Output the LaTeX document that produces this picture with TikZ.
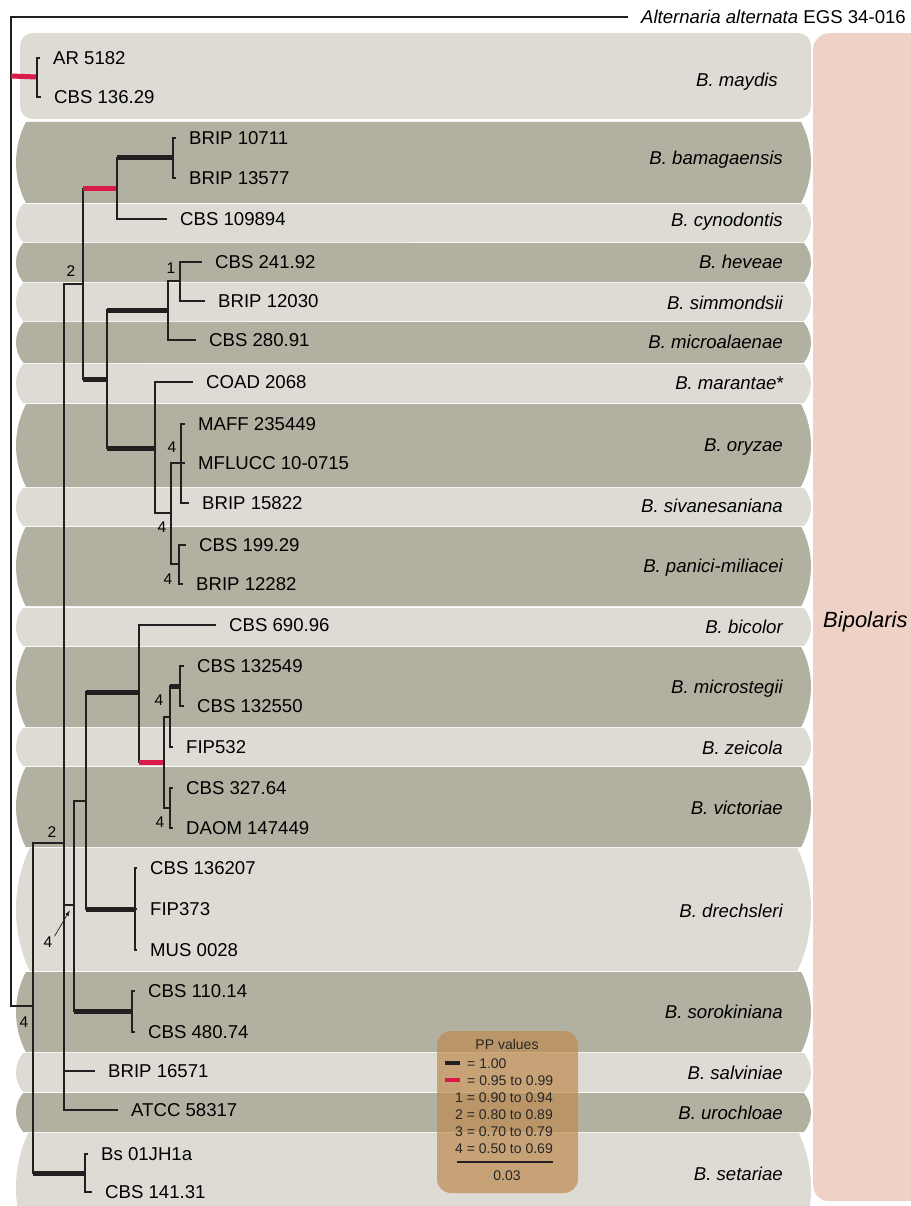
\documentclass[tikz,border=0pt]{standalone}
\usepackage{fontspec}
\setmainfont{Liberation Sans}
\usetikzlibrary{arrows.meta, shapes.misc}

\definecolor{bandlight}{RGB}{221,219,212}
\definecolor{banddark}{RGB}{178,177,161}
\definecolor{genuspink}{RGB}{239,209,197}
\definecolor{legendtan}{RGB}{190,138,80}
\definecolor{ppred}{RGB}{216,27,72}
\definecolor{treeblack}{RGB}{35,31,32}

\begin{document}
\begin{tikzpicture}[x=1pt, y=-1pt,
    every node/.style={inner sep=0pt, text depth=0pt},
    leaf/.style={anchor=west, font=\fontsize{18.6}{20}\selectfont, text height=13.3pt},
    species/.style={anchor=east, font=\fontsize{18.6}{20}\selectfont\itshape, text height=13.3pt},
    ppnum/.style={font=\fontsize{15.5}{17}\selectfont, text height=11.1pt},
    legtext/.style={font=\fontsize{14}{16}\selectfont, text height=10pt, text=black!85},
    band/.style={rounded rectangle, rounded rectangle arc length=#1, minimum width=795pt},
    legendbox/.style={fill=legendtan, fill opacity=0.7, rounded corners=14pt, minimum width=141pt, minimum height=162pt},
    br/.style={line width=1.3pt, treeblack},
    leafbr/.style={br, shorten >=13pt},
    pp100/.style={line width=5pt, treeblack},
    pp95/.style={line width=5pt, ppred},
    pparrow/.style={-{Latex[length=6pt,width=4pt]}, line width=0.7pt, treeblack}
]
\useasboundingbox (0,0) rectangle (910,1206);

% background bands
\node[fill=genuspink, rounded corners=16pt, minimum width=120pt, minimum height=1168pt, anchor=north west] (genus) at (813,33) {};
\node[fill=bandlight, rounded corners=13pt, minimum width=791pt, minimum height=86pt] (bmaydis) at (415.5,76) {};
\node[band=55, fill=banddark, minimum height=81pt] (bbamag) at (413.5,162.5) {};
\node[band=80, fill=bandlight, minimum height=38pt] (bcynod) at (413.5,223) {};
\node[band=80, fill=banddark, minimum height=39pt] (bheveae) at (413.5,262.5) {};
\node[band=80, fill=bandlight, minimum height=38pt] (bsimm) at (413.5,302) {};
\node[band=80, fill=banddark, minimum height=41pt] (bmicroal) at (413.5,342.5) {};
\node[band=80, fill=bandlight, minimum height=39pt] (bmarant) at (413.5,383.5) {};
\node[band=55, fill=banddark, minimum height=83pt] (boryzae) at (413.5,445.5) {};
\node[band=80, fill=bandlight, minimum height=38pt] (bsivan) at (413.5,507) {};
\node[band=55, fill=banddark, minimum height=79pt] (bpanici) at (413.5,566.5) {};
\node[band=80, fill=bandlight, minimum height=38pt] (bbicolor) at (413.5,627) {};
\node[band=55, fill=banddark, minimum height=80pt] (bmicrost) at (413.5,687) {};
\node[band=80, fill=bandlight, minimum height=38pt] (bzeicola) at (413.5,747) {};
\node[band=55, fill=banddark, minimum height=80pt] (bvictor) at (413.5,807) {};
\node[band=50, fill=bandlight, minimum height=123pt] (bdrech) at (413.5,909.5) {};
\node[band=55, fill=banddark, minimum height=80pt] (bsorok) at (413.5,1012) {};
\node[band=80, fill=bandlight, minimum height=39pt] (bsalvin) at (413.5,1072.5) {};
\node[band=80, fill=banddark, minimum height=39pt] (buroch) at (413.5,1112.5) {};
\node[band=50, fill=bandlight, minimum height=110pt] (bsetar) at (413.5,1188) {};

% internal nodes
\coordinate (root) at (11,76);
\coordinate (nmay) at (37,77);
\coordinate (nin) at (33,1006);
\coordinate (n64) at (64,843);
\coordinate (n83) at (83,284);
\coordinate (n117) at (117,189);
\coordinate (n173) at (173,158);
\coordinate (n107) at (107,379);
\coordinate (n168) at (168,310);
\coordinate (n180) at (180,281);
\coordinate (n155) at (155,448);
\coordinate (n171) at (171,513);
\coordinate (n181) at (181,463);
\coordinate (n179) at (179,564);
\coordinate (n74) at (74,905);
\coordinate (n86) at (86,801);
\coordinate (n139) at (139,692);
\coordinate (n164) at (164,762);
\coordinate (n170) at (170,717);
\coordinate (n180b) at (180,686);
\coordinate (n170b) at (170,808);
\coordinate (ndre) at (135,909);
\coordinate (nsor) at (132,1011);
\coordinate (nset) at (85,1173);

% taxa
\node[leaf, anchor=east] (alternaria) at (906,17) {\textit{Alternaria alternata} EGS 34-016};
\node[leaf] (ar5182) at (53,58) {AR 5182};
\node[leaf] (cbs13629) at (54,97) {CBS 136.29};
\node[leaf] (brip10711) at (189,138) {BRIP 10711};
\node[leaf] (brip13577) at (189,178) {BRIP 13577};
\node[leaf] (cbs109894) at (180,219) {CBS 109894};
\node[leaf] (cbs24192) at (215,262) {CBS 241.92};
\node[leaf] (brip12030) at (218,301) {BRIP 12030};
\node[leaf] (cbs28091) at (209,340) {CBS 280.91};
\node[leaf] (coad2068) at (206,382) {COAD 2068};
\node[leaf] (maff235449) at (198,424) {MAFF 235449};
\node[leaf] (mflucc) at (198,463) {MFLUCC 10-0715};
\node[leaf] (brip15822) at (202,503) {BRIP 15822};
\node[leaf] (cbs19929) at (199,545) {CBS 199.29};
\node[leaf] (brip12282) at (196,584) {BRIP 12282};
\node[leaf] (cbs69096) at (229,625) {CBS 690.96};
\node[leaf] (cbs132549) at (197,666) {CBS 132549};
\node[leaf] (cbs132550) at (197,706) {CBS 132550};
\node[leaf] (fip532) at (186,747) {FIP532};
\node[leaf] (cbs32764) at (186,788) {CBS 327.64};
\node[leaf] (daom147449) at (186,828) {DAOM 147449};
\node[leaf] (cbs136207) at (150,868) {CBS 136207};
\node[leaf] (fip373) at (150,909) {FIP373};
\node[leaf] (mus0028) at (150,950) {MUS 0028};
\node[leaf] (cbs11014) at (148,991) {CBS 110.14};
\node[leaf] (cbs48074) at (148,1032) {CBS 480.74};
\node[leaf] (brip16571) at (108,1071) {BRIP 16571};
\node[leaf] (atcc58317) at (131,1110) {ATCC 58317};
\node[leaf] (bs01jh1a) at (101,1154) {Bs 01JH1a};
\node[leaf] (cbs14131) at (105,1192) {CBS 141.31};

% species names
\node[species] (maydis) at (778,80) {B. maydis};
\node[species] (bamagaensis) at (783,158) {B. bamagaensis};
\node[species] (cynodontis) at (783,220) {B. cynodontis};
\node[species] (heveae) at (783,262) {B. heveae};
\node[species] (simmondsii) at (783,303) {B. simmondsii};
\node[species] (microalaenae) at (783,342) {B. microalaenae};
\node[species] (marantae) at (784,383) {B. marantae\upshape*};
\node[species] (oryzae) at (783,445) {B. oryzae};
\node[species] (sivanesaniana) at (783,506) {B. sivanesaniana};
\node[species] (panici) at (783,566) {B. panici-miliacei};
\node[species] (bicolor) at (783,627) {B. bicolor};
\node[species] (microstegii) at (783,687) {B. microstegii};
\node[species] (zeicola) at (783,748) {B. zeicola};
\node[species] (victoriae) at (783,808) {B. victoriae};
\node[species] (drechsleri) at (783,911) {B. drechsleri};
\node[species] (sorokiniana) at (783,1012) {B. sorokiniana};
\node[species] (salviniae) at (783,1073) {B. salviniae};
\node[species] (urochloae) at (783,1113) {B. urochloae};
\node[species] (setariae) at (783,1174) {B. setariae};
\node[font=\fontsize{22}{24}\selectfont\itshape, text height=15.8pt, anchor=west] (bipolaris) at (823,620) {Bipolaris};

% branches
\draw[leafbr] (root) |- (alternaria.west);
\draw[br] (root) |- (nin);
\draw[pp95] (root) -- (nmay);
\draw[leafbr] (nmay) |- (ar5182.west);
\draw[leafbr] (nmay) |- (cbs13629.west);
\draw[br] (nin) |- (n64);
\draw[br] (nin) |- (nset);
\draw[pp100] (nin |- nset) -- (nset);
\draw[leafbr] (nset) |- (bs01jh1a.west);
\draw[leafbr] (nset) |- (cbs14131.west);
\draw[br] (n64) |- (n83);
\draw[br] (n64) |- (n74);
\draw[leafbr] (n64) |- (brip16571.west);
\draw[leafbr] (n64) |- (atcc58317.west);
\draw[br] (n83) |- (n117);
\draw[pp95] (n83 |- n117) -- (n117);
\draw[br] (n83) |- (n107);
\draw[pp100] (n83 |- n107) -- (n107);
\draw[br] (n117) |- (n173);
\draw[pp100] (n117 |- n173) -- (n173);
\draw[leafbr] (n117) |- (cbs109894.west);
\draw[leafbr] (n173) |- (brip10711.west);
\draw[leafbr] (n173) |- (brip13577.west);
\draw[br] (n107) |- (n168);
\draw[pp100] (n107 |- n168) -- (n168);
\draw[br] (n107) |- (n155);
\draw[pp100] (n107 |- n155) -- (n155);
\draw[br] (n168) |- (n180);
\draw[leafbr] (n168) |- (cbs28091.west);
\draw[leafbr] (n180) |- (cbs24192.west);
\draw[leafbr] (n180) |- (brip12030.west);
\draw[leafbr] (n155) |- (coad2068.west);
\draw[br] (n155) |- (n171);
\draw[br] (n171) |- (n181);
\draw[br] (n171) |- (n179);
\draw[leafbr] (n181) |- (maff235449.west);
\draw[leafbr] (n181) |- (mflucc.west);
\draw[leafbr] (n181) |- (brip15822.west);
\draw[leafbr] (n179) |- (cbs19929.west);
\draw[leafbr] (n179) |- (brip12282.west);
\draw[br] (n74) |- (n86);
\draw[br] (n74) |- (nsor);
\draw[pp100] (n74 |- nsor) -- (nsor);
\draw[leafbr] (nsor) |- (cbs11014.west);
\draw[leafbr] (nsor) |- (cbs48074.west);
\draw[br] (n86) |- (n139);
\draw[pp100] (n86 |- n139) -- (n139);
\draw[br] (n86) |- (ndre);
\draw[pp100] (n86 |- ndre) -- (ndre);
\draw[leafbr] (ndre) |- (cbs136207.west);
\draw[leafbr] (ndre) |- (fip373.west);
\draw[leafbr] (ndre) |- (mus0028.west);
\draw[leafbr] (n139) |- (cbs69096.west);
\draw[br] (n139) |- (n164);
\draw[pp95] (n139 |- n164) -- (n164);
\draw[br] (n164) |- (n170);
\draw[br] (n164) |- (n170b);
\draw[br] (n170) |- (n180b);
\draw[pp100] (n170 |- n180b) -- (n180b);
\draw[leafbr] (n170) |- (fip532.west);
\draw[leafbr] (n180b) |- (cbs132549.west);
\draw[leafbr] (n180b) |- (cbs132550.west);
\draw[leafbr] (n170b) |- (cbs32764.west);
\draw[leafbr] (n170b) |- (daom147449.west);

% support values
\node[ppnum] (pp83) at (71,271) {2};
\node[ppnum] (pp180) at (171,268) {1};
\node[ppnum] (pp181) at (172,447) {4};
\node[ppnum] (pp171) at (162,527) {4};
\node[ppnum] (pp179) at (168,579) {4};
\node[ppnum] (pp170) at (159,700) {4};
\node[ppnum] (pp170b) at (160,822) {4};
\node[ppnum] (pp64) at (52,832) {2};
\node[ppnum] (pp74) at (48,942) {4};
\node[ppnum] (ppin) at (24,1022) {4};
\draw[pparrow] ([xshift=2pt]pp74.north east) -- ([xshift=-4pt,yshift=-5pt]n74);

% legend
\node[legendbox] (legend) at (507.5,1112) {};
\node[legtext] (pptitle) at (507,1044) {PP values};
\node[legtext, anchor=west] (key100) at (467,1063) {= 1.00};
\node[legtext, anchor=west] (key95) at (467,1080) {= 0.95 to 0.99};
\node[legtext, anchor=east] (key1) at (553,1097) {1 = 0.90 to 0.94};
\node[legtext, anchor=east] (key2) at (553,1114) {2 = 0.80 to 0.89};
\node[legtext, anchor=east] (key3) at (553,1131) {3 = 0.70 to 0.79};
\node[legtext, anchor=east] (key4) at (553,1148) {4 = 0.50 to 0.69};
\draw[pp100, line width=4pt] ([xshift=-22pt]key100.west) -- ([xshift=-7pt]key100.west);
\draw[pp95, line width=4pt] ([xshift=-22pt]key95.west) -- ([xshift=-7pt]key95.west);
\draw[treeblack, line width=2.6pt] (457,1162) -- (553,1162);
\node[legtext] (scalelab) at (507,1175) {0.03};
\end{tikzpicture}
\end{document}
